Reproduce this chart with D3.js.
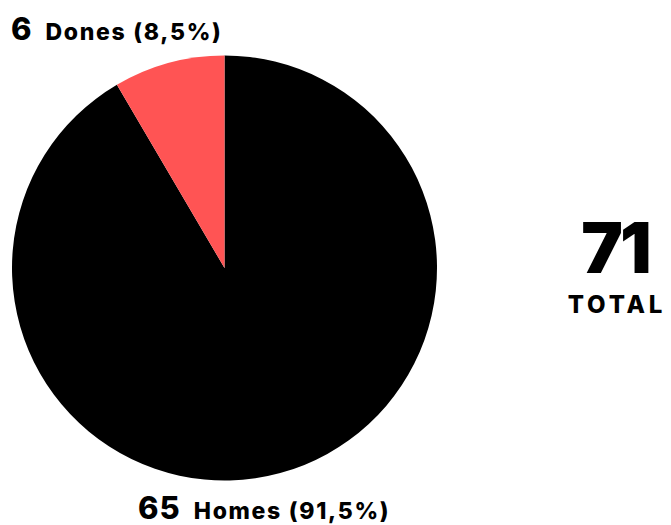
<!DOCTYPE html>
<html><head><meta charset="utf-8">
<script src="https://cdn.jsdelivr.net/npm/d3@7"></script>
<style>html,body{margin:0;padding:0;background:#fff;}svg{display:block;}text{font-family:Inter,"Open Sans",sans-serif;}</style>
</head><body>
<svg id="c" width="671" height="525"></svg>
<script>
const categories = ["Homes", "Dones"];
const values = [65, 6];
const percentLabels = ["91,5%", "8,5%"];
const colors = ["#000000", "#ff5454"];
const totalLabel = "TOTAL";

const svg = d3.select("#c");
const cx = 224.5, cy = 268, r = 212.5;
const total = d3.sum(values);

const pie = d3.pie().sort(null).value(d => d)(values);
const arc = d3.arc().innerRadius(0).outerRadius(r);
const color = d3.scaleOrdinal().domain(categories).range(colors);

svg.append("g").attr("transform", `translate(${cx},${cy})`)
  .selectAll("path").data(pie).join("path")
  .attr("d", arc)
  .attr("fill", (d, i) => color(categories[i]));

// labels
const labelPos = [ {x: 138, y: 519}, {x: 11, y: 40} ];
categories.forEach((c, i) => {
  const t = svg.append("text").attr("x", labelPos[i].x).attr("y", labelPos[i].y)
    .attr("fill", "#000").attr("font-weight", 800);
  t.append("tspan").attr("font-size", 31).attr("letter-spacing", 1).text(values[i]);
  t.append("tspan").attr("dx", 13).attr("font-size", 23).attr("letter-spacing", 1.7)
    .text(`${c} (${percentLabels[i]})`);
});

svg.append("text").attr("x", 615).attr("y", 273).attr("text-anchor", "middle")
  .attr("font-size", 70).attr("font-weight", 900).attr("letter-spacing", -3).text(total);
svg.append("text").attr("x", 617).attr("y", 313).attr("text-anchor", "middle")
  .attr("font-size", 24).attr("font-weight", 800).attr("letter-spacing", 3.8).text(totalLabel);
</script>
</body></html>
